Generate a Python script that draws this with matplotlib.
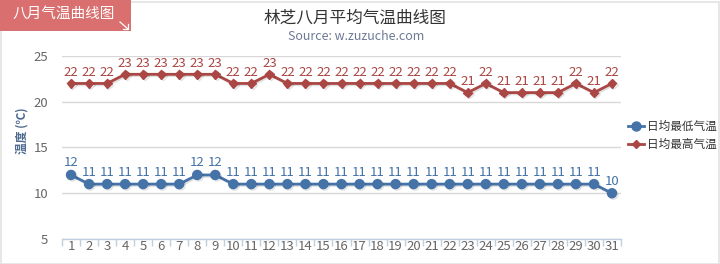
import matplotlib
matplotlib.use("Agg")
import matplotlib.pyplot as plt
import matplotlib.patheffects as pe
from matplotlib.patches import Rectangle

plt.rcParams['font.family'] = ['Noto Sans CJK SC', 'DejaVu Sans']

days = list(range(1, 32))
low_temps = [12, 11, 11, 11, 11, 11, 11, 12, 12, 11, 11, 11, 11, 11, 11, 11,
             11, 11, 11, 11, 11, 11, 11, 11, 11, 11, 11, 11, 11, 11, 10]
high_temps = [22, 22, 22, 23, 23, 23, 23, 23, 23, 22, 22, 23, 22, 22, 22, 22,
              22, 22, 22, 22, 22, 22, 21, 22, 21, 21, 21, 21, 22, 21, 22]
y_ticks = [5, 10, 15, 20, 25]

low_name = '日均最低气温'
high_name = '日均最高气温'
title = '林芝八月平均气温曲线图'
subtitle = 'Source: w.zuzuche.com'
badge_text = '八月气温曲线图'
y_label = '温度 (℃)'

LOW_C = '#4572A7'
HIGH_C = '#AA4643'

W, H = 720, 264
fig = plt.figure(figsize=(W / 100, H / 100), dpi=100)
fig.patch.set_facecolor('white')

# outer frame
fig.patches.append(Rectangle((0.5 / W, 0.5 / H), 1 - 1.5 / W, 1 - 2.0 / H,
                             transform=fig.transFigure, fill=False,
                             edgecolor='#e3e3e3', linewidth=1.2))

ax_l, ax_r, ax_t, ax_b = 62, 621, 56, 239
ax = fig.add_axes([ax_l / W, 1 - ax_b / H, (ax_r - ax_l) / W, (ax_b - ax_t) / H])
ax.set_xlim(0.5, 31.5)
ax.set_ylim(5, 25)

for s in ['top', 'right', 'left']:
    ax.spines[s].set_visible(False)
ax.spines['bottom'].set_color('#c0d0e0')
ax.spines['bottom'].set_linewidth(1)

ax.set_yticks(y_ticks)
ax.yaxis.grid(True, color='#d8d8d8', linewidth=1)
ax.set_axisbelow(True)
ax.tick_params(axis='y', length=0, labelsize=9.5, labelcolor='#666666', pad=10)

ax.set_xticks(days)
ax.set_xticklabels([str(d) for d in days])
ax.set_xticks([d + 0.5 for d in [0] + days], minor=True)
ax.tick_params(axis='x', which='major', length=0, labelsize=9.5,
               labelcolor='#666666', pad=1)
ax.tick_params(axis='x', which='minor', length=5, color='#c0d0e0', width=1)

shadow = [pe.SimpleLineShadow(offset=(1, -1), shadow_color='#000000', alpha=0.12),
          pe.Normal()]

ax.plot(days, low_temps, color=LOW_C, linewidth=2, marker='o', markersize=6.5,
        path_effects=shadow, zorder=3, clip_on=False)
ax.plot(days, high_temps, color=HIGH_C, linewidth=2, marker='D', markersize=4.5,
        path_effects=shadow, zorder=3, clip_on=False)

for d, v in zip(days, low_temps):
    ax.annotate(str(v), (d, v), xytext=(0, 4), textcoords='offset points',
                ha='center', va='bottom', fontsize=9.5, color=LOW_C)
for d, v in zip(days, high_temps):
    ax.annotate(str(v), (d, v), xytext=(0, 3), textcoords='offset points',
                ha='center', va='bottom', fontsize=9.5, color=HIGH_C)

fig.text(22 / W, 1 - 131 / H, y_label, rotation=90, ha='center', va='center',
         fontsize=8.5, color='#4d6a8f', fontweight='bold')

# titles
fig.text(355 / W, 1 - 18 / H, title, ha='center', va='center',
         fontsize=12, color='#333333')
fig.text(356 / W, 1 - 37 / H, subtitle, ha='center', va='center',
         fontsize=9, color='#6d7a94')

# corner badge
fig.patches.append(Rectangle((0, 1 - 31 / H), 131 / W, 31 / H,
                             transform=fig.transFigure, facecolor='#d9706f',
                             edgecolor='none'))
fig.text(64 / W, 1 - 14 / H, badge_text, ha='center', va='center',
         fontsize=10.5, color='white')
fig.lines.append(plt.Line2D([120 / W, 128 / W], [1 - 22 / H, 1 - 29 / H],
                            transform=fig.transFigure, color='white', lw=0.9))
fig.lines.append(plt.Line2D([123 / W, 128 / W, 128 / W],
                            [1 - 29 / H, 1 - 29 / H, 1 - 24 / H],
                            transform=fig.transFigure, color='white', lw=0.9))

# legend
for yy, c, m, ms, name in [(126, LOW_C, 'o', 6.5, low_name),
                           (144, HIGH_C, 'D', 4.5, high_name)]:
    fig.lines.append(plt.Line2D([628 / W, 644 / W], [1 - yy / H, 1 - yy / H],
                                transform=fig.transFigure, color=c, lw=2))
    fig.lines.append(plt.Line2D([636 / W], [1 - yy / H], transform=fig.transFigure,
                                color=c, marker=m, markersize=ms, lw=0))
    fig.text(647 / W, 1 - yy / H, name, ha='left', va='center',
             fontsize=8.4, color='#333333')

fig.savefig('out.png', dpi=100)
